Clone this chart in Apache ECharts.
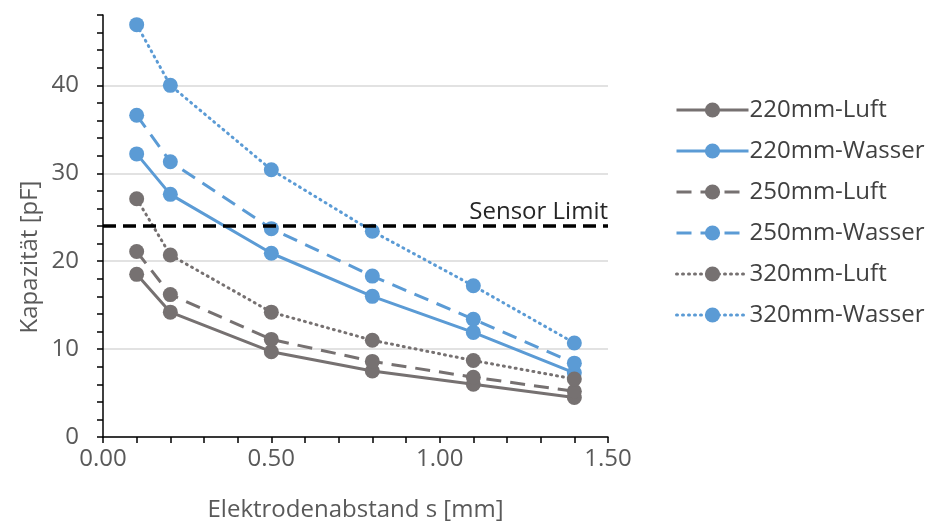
<!DOCTYPE html>
<html>
<head>
<meta charset="utf-8">
<script src="https://cdn.jsdelivr.net/npm/echarts@6/dist/echarts.min.js"></script>
<style>
  html, body { margin: 0; padding: 0; background: #fff; }
  #chart { width: 928px; height: 527px; }
</style>
</head>
<body>
<div id="chart"></div>
<script>
// electrode distance [mm]
const distances = [0.1, 0.2, 0.5, 0.8, 1.1, 1.4];

// capacitance [pF] per configuration
const luft220 = [18.5, 14.2, 9.7, 7.5, 6.0, 4.5];
const wasser220 = [32.2, 27.6, 20.9, 16.0, 11.9, 7.3];
const luft250 = [21.1, 16.2, 11.1, 8.6, 6.8, 5.2];
const wasser250 = [36.6, 31.3, 23.7, 18.3, 13.4, 8.4];
const luft320 = [27.1, 20.7, 14.2, 11.0, 8.7, 6.6];
const wasser320 = [46.9, 40.0, 30.4, 23.4, 17.2, 10.7];

const sensorLimit = 24;

const GRAY = '#767171';
const BLUE = '#5B9BD5';
const FONT = 'Open Sans';
const FS = 24;

const chart = echarts.init(document.getElementById('chart'));

function makeSeries(name, values, color, lineType) {
    const lineStyle = { color: color, width: 3, type: lineType };
    if (lineType === 'dotted') {
        lineStyle.type = [1, 5];
        lineStyle.cap = 'round';
    } else if (lineType === 'dashed') {
        lineStyle.type = [15, 9];
    }
    return {
        name: name,
        type: 'line',
        data: distances.map((d, i) => [d, values[i]]),
        symbol: 'circle',
        symbolSize: 15,
        itemStyle: { color: color },
        lineStyle: lineStyle,
        emphasis: { disabled: true },
        animation: false
    };
}

const series = [
    makeSeries('220mm-Luft', luft220, GRAY, 'solid'),
    makeSeries('220mm-Wasser', wasser220, BLUE, 'solid'),
    makeSeries('250mm-Luft', luft250, GRAY, 'dashed'),
    makeSeries('250mm-Wasser', wasser250, BLUE, 'dashed'),
    makeSeries('320mm-Luft', luft320, GRAY, 'dotted'),
    makeSeries('320mm-Wasser', wasser320, BLUE, 'dotted')
];

// sensor limit line on the first series
series[0].markLine = {
    silent: true,
    symbol: 'none',
    lineStyle: { color: '#000', width: 3.5, type: [13, 7] },
    label: {
        position: 'insideEndTop',
        formatter: 'Sensor Limit',
        fontFamily: FONT,
        fontSize: FS,
        color: '#262626',
        distance: [0, 2]
    },
    data: [{ yAxis: sensorLimit }]
};

const isMultiple = (v, step) => Math.abs(v / step - Math.round(v / step)) < 1e-6;

chart.setOption({
    animation: false,
    textStyle: { fontFamily: FONT },
    grid: { left: 103, right: 320, top: 15, bottom: 87, containLabel: false },
    legend: {
        orient: 'vertical',
        left: 670,
        top: 93,
        itemWidth: 72,
        itemHeight: 19,
        itemGap: 17,
        lineStyle: { width: 3 },
        textStyle: { fontFamily: FONT, fontSize: FS, color: '#404040', padding: [0, 0, 0, -4] },
        data: series.map(s => s.name)
    },
    xAxis: {
        type: 'value',
        min: 0,
        max: 1.5,
        interval: 0.1,
        name: 'Elektrodenabstand s [mm]',
        nameLocation: 'middle',
        nameGap: 61,
        nameTextStyle: { fontFamily: FONT, fontSize: FS, color: '#595959' },
        axisLine: { lineStyle: { color: '#000', width: 1.5 } },
        axisTick: { show: true, length: 6, lineStyle: { color: '#000', width: 1.5 } },
        axisLabel: {
            margin: 10,
            fontSize: FS,
            color: '#595959',
            formatter: v => isMultiple(v, 0.5) ? v.toFixed(2) : ''
        },
        splitLine: { show: false }
    },
    yAxis: [
        {
            type: 'value',
            min: 0,
            max: 48,
            interval: 2,
            axisLine: { show: true, lineStyle: { color: '#000', width: 1.5 } },
            axisTick: { show: true, length: 6, lineStyle: { color: '#000', width: 1.5 } },
            axisLabel: { show: false },
            splitLine: { show: false }
        },
        {
            type: 'value',
            position: 'left',
            min: 0,
            max: 48,
            interval: 10,
            axisLine: { show: false },
            axisTick: { show: false },
            axisLabel: {
                margin: 24,
                fontSize: FS,
                color: '#595959',
                showMaxLabel: false
            },
            splitLine: { show: true, showMaxLine: false, lineStyle: { color: '#d9d9d9', width: 1.5 } }
        }
    ],
    graphic: [{
        type: 'text',
        x: 30,
        y: 257,
        rotation: Math.PI / 2,
        style: {
            text: 'Kapazität [pF]',
            fontFamily: FONT,
            fontSize: FS,
            fill: '#595959',
            align: 'center',
            verticalAlign: 'middle'
        }
    }],
    series: series
});
</script>
</body>
</html>
